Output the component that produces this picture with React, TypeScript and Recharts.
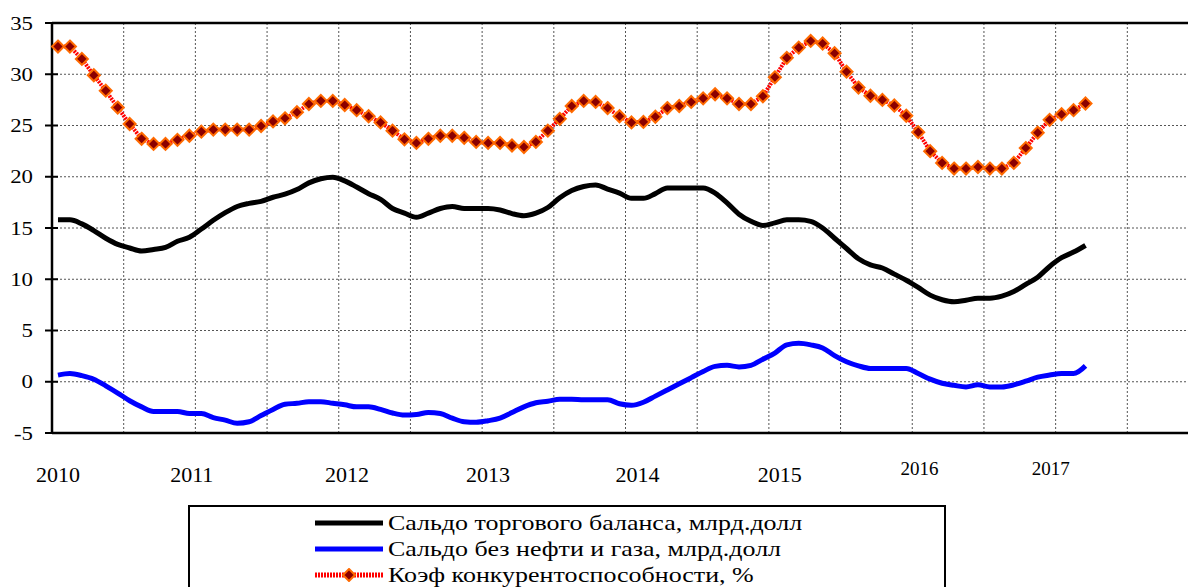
import React from 'react';
import { LineChart, Line, XAxis, YAxis, CartesianGrid, ReferenceLine, Legend } from 'recharts';

// Monthly data, January 2010 – March 2017
const tradeBalance = [
  15.8, 15.8, 15.4, 14.75, 14.0, 13.4, 13.05, 12.75, 12.9, 13.1,
  13.7, 14.1, 14.9, 15.75, 16.5, 17.1, 17.4, 17.6, 18.0, 18.3,
  18.75, 19.4, 19.8, 19.95, 19.6, 19.0, 18.35, 17.8, 16.9, 16.45,
  16.05, 16.45, 16.9, 17.1, 16.9, 16.9, 16.9, 16.75, 16.4, 16.2,
  16.45, 17.0, 17.95, 18.65, 19.05, 19.2, 18.8, 18.4, 17.9, 17.9,
  18.35, 18.9, 18.9, 18.9, 18.9, 18.4, 17.45, 16.35, 15.65, 15.25,
  15.5, 15.8, 15.8, 15.65, 15.0, 14.0, 13.0, 12.0, 11.4, 11.1,
  10.5, 9.9, 9.2, 8.45, 8.0, 7.8, 7.95, 8.15, 8.15, 8.35,
  8.8, 9.5, 10.2, 11.25, 12.1, 12.65, 13.3,
];

const nonOilBalance = [
  0.65, 0.8, 0.6, 0.25, -0.4, -1.1, -1.85, -2.45, -2.9, -2.9,
  -2.9, -3.1, -3.1, -3.5, -3.75, -4.05, -3.9, -3.3, -2.7, -2.2,
  -2.1, -1.95, -1.95, -2.1, -2.25, -2.45, -2.45, -2.7, -3.05, -3.25,
  -3.2, -3.0, -3.1, -3.55, -3.9, -3.95, -3.8, -3.55, -3.0, -2.45,
  -2.05, -1.9, -1.7, -1.7, -1.75, -1.75, -1.75, -2.15, -2.3, -2.0,
  -1.4, -0.8, -0.2, 0.4, 1.0, 1.5, 1.6, 1.45, 1.6, 2.2,
  2.8, 3.6, 3.75, 3.6, 3.3, 2.55, 1.95, 1.55, 1.3, 1.3,
  1.3, 1.3, 0.8, 0.25, -0.15, -0.35, -0.5, -0.3, -0.5, -0.5,
  -0.3, 0.05, 0.45, 0.65, 0.8, 0.8, 1.55,
];

const competitiveness = [
  32.7, 32.7, 31.5, 29.9, 28.4, 26.75, 25.15, 23.7, 23.2, 23.2,
  23.6, 24.0, 24.4, 24.6, 24.6, 24.6, 24.6, 24.95, 25.4, 25.7,
  26.3, 27.1, 27.4, 27.4, 27.0, 26.5, 25.9, 25.3, 24.5, 23.65,
  23.3, 23.7, 24.0, 24.0, 23.8, 23.4, 23.3, 23.3, 23.05, 22.9,
  23.4, 24.5, 25.65, 26.9, 27.4, 27.3, 26.7, 25.9, 25.3, 25.35,
  25.85, 26.7, 26.9, 27.3, 27.65, 28.05, 27.65, 27.1, 27.1, 27.85,
  29.7, 31.6, 32.6, 33.25, 33.0, 32.05, 30.25, 28.7, 27.9, 27.5,
  26.95, 25.95, 24.35, 22.5, 21.35, 20.8, 20.8, 20.95, 20.8, 20.8,
  21.35, 22.8, 24.3, 25.55, 26.1, 26.5, 27.15,
];

// Year labels and where (in months from Jan 2010) they sit under the axis
const yearLabels = ['2010', '2011', '2012', '2013', '2014', '2015', '2016', '2017'];
const yearLabelMonths = [0.5, 11.7, 24.7, 36.5, 49, 60.9, 72.6, 83.6];

// Grid every half year, axis covers 2010–2017 (96 months)
const gridMonths = [0, 6, 12, 18, 24, 30, 36, 42, 48, 54, 60, 66, 72, 78, 84, 90, 96];
const yTicks = [-5, 0, 5, 10, 15, 20, 25, 30, 35];

const seriesNames = {
  trade: 'Сальдо торгового баланса, млрд.долл',
  nonOil: 'Сальдо без нефти и газа, млрд.долл',
  comp: 'Коэф конкурентоспособности, %',
};

const rows = tradeBalance.map((v, i) => ({
  month: `${2010 + Math.floor(i / 12)}-${String((i % 12) + 1).padStart(2, '0')}`,
  pos: i + 0.5,
  trade: v,
  nonOil: nonOilBalance[i],
  comp: competitiveness[i],
}));

const FONT = 'Liberation Serif';

const Diamond = (props: any) => {
  const { cx, cy, index } = props;
  if (cx == null || cy == null) return <g key={`d${index}`} />;
  const r = 6;
  return (
    <polygon
      key={`d${index}`}
      points={`${cx},${cy - r} ${cx + r},${cy} ${cx},${cy + r} ${cx - r},${cy}`}
      fill="#8B0000"
      stroke="#FF6A00"
      strokeWidth={2}
    />
  );
};

const YearTick = (props: any) => {
  const { x, y, payload } = props;
  const idx = yearLabelMonths.indexOf(payload.value);
  const label = yearLabels[idx] ?? '';
  const small = Number(label) >= 2016;
  return (
    <text
      x={x}
      y={y}
      dy={small ? 42 : 49}
      textAnchor="middle"
      fontSize={small ? 19 : 22}
      fontFamily={FONT}
      fill="#000"
    >
      {label}
    </text>
  );
};

// Value label plus a tick mark that crosses the axis line
const ValueTick = (props: any) => {
  const { x, y, payload } = props;
  return (
    <g>
      <line x1={x + 12} y1={y} x2={x + 25} y2={y} stroke="#000" strokeWidth={2} />
      <text
        transform={`translate(${x},${y}) scale(1.2,1)`}
        x={0}
        y={0}
        dy={6.5}
        textAnchor="end"
        fontSize={19}
        fontFamily={FONT}
        fill="#000"
      >
        {payload.value}
      </text>
    </g>
  );
};

const LegendBox = () => {
  const items = [
    { name: seriesNames.trade, color: '#000000', kind: 'line' },
    { name: seriesNames.nonOil, color: '#0000FF', kind: 'line' },
    { name: seriesNames.comp, color: '#FF0000', kind: 'marker' },
  ];
  return (
    <div
      style={{
        width: 758,
        height: 100,
        border: '2px solid #000',
        boxSizing: 'border-box',
        background: '#fff',
        position: 'relative',
        fontFamily: FONT,
      }}
    >
      {items.map((it, i) => (
        <div
          key={it.name}
          style={{
            position: 'absolute',
            left: 125,
            top: 3 + i * 26,
            height: 26,
            display: 'flex',
            alignItems: 'center',
            whiteSpace: 'nowrap',
          }}
        >
          <svg width={68} height={14} style={{ marginRight: 5 }}>
            {it.kind === 'line' ? (
              <line x1={0} y1={7} x2={68} y2={7} stroke={it.color} strokeWidth={5} />
            ) : (
              <g>
                <line x1={0} y1={7} x2={68} y2={7} stroke="#FF0000" strokeWidth={5} strokeDasharray="2 1" />
                <polygon points="34,1 40,7 34,13 28,7" fill="#8B0000" stroke="#FF6A00" strokeWidth={2} />
              </g>
            )}
          </svg>
          <span
            style={{
              fontSize: 22,
              fontFamily: FONT,
              color: '#000',
              lineHeight: '26px',
              display: 'inline-block',
              transform: 'scaleX(1.18)',
              transformOrigin: 'left center',
            }}
          >
            {it.name}
          </span>
        </div>
      ))}
    </div>
  );
};

export default function App() {
  return (
    <div
      style={{
        position: 'fixed',
        left: 0,
        top: 0,
        width: 1188,
        height: 587,
        overflow: 'hidden',
        background: '#fff',
        fontFamily: FONT,
      }}
    >
      <LineChart
        width={1200}
        height={587}
        data={rows}
        margin={{ top: 23, right: 1, bottom: 104, left: 0 }}
      >
        <CartesianGrid
          stroke="#555"
          strokeDasharray="2 2"
          strokeWidth={1}
          verticalValues={gridMonths}
        />
        <XAxis
          dataKey="pos"
          type="number"
          domain={[0, 96]}
          ticks={yearLabelMonths}
          interval={0}
          height={50}
          tickSize={0}
          tickMargin={0}
          tickLine={false}
          axisLine={{ stroke: '#000', strokeWidth: 2.5 }}
          tick={<YearTick />}
        />
        <YAxis
          domain={[-5, 35]}
          ticks={yTicks}
          interval={0}
          width={52}
          tickSize={7}
          tickMargin={12}
          axisLine={{ stroke: '#000', strokeWidth: 2.5 }}
          tickLine={false}
          tick={<ValueTick />}
        />
        <ReferenceLine y={35} stroke="#000" strokeWidth={2.5} />
        <Line
          type="monotone"
          dataKey="trade"
          name={seriesNames.trade}
          stroke="#000000"
          strokeWidth={5}
          dot={false}
          isAnimationActive={false}
        />
        <Line
          type="monotone"
          dataKey="nonOil"
          name={seriesNames.nonOil}
          stroke="#0000FF"
          strokeWidth={5}
          dot={false}
          isAnimationActive={false}
        />
        <Line
          type="linear"
          dataKey="comp"
          name={seriesNames.comp}
          stroke="#FF0000"
          strokeWidth={4}
          strokeDasharray="2 1"
          dot={(p: any) => <Diamond {...p} />}
          isAnimationActive={false}
        />
        <Legend
          layout="vertical"
          align="center"
          verticalAlign="middle"
          wrapperStyle={{ left: 188, top: 505, width: 758, height: 100 }}
          content={() => <LegendBox />}
        />
      </LineChart>
    </div>
  );
}
